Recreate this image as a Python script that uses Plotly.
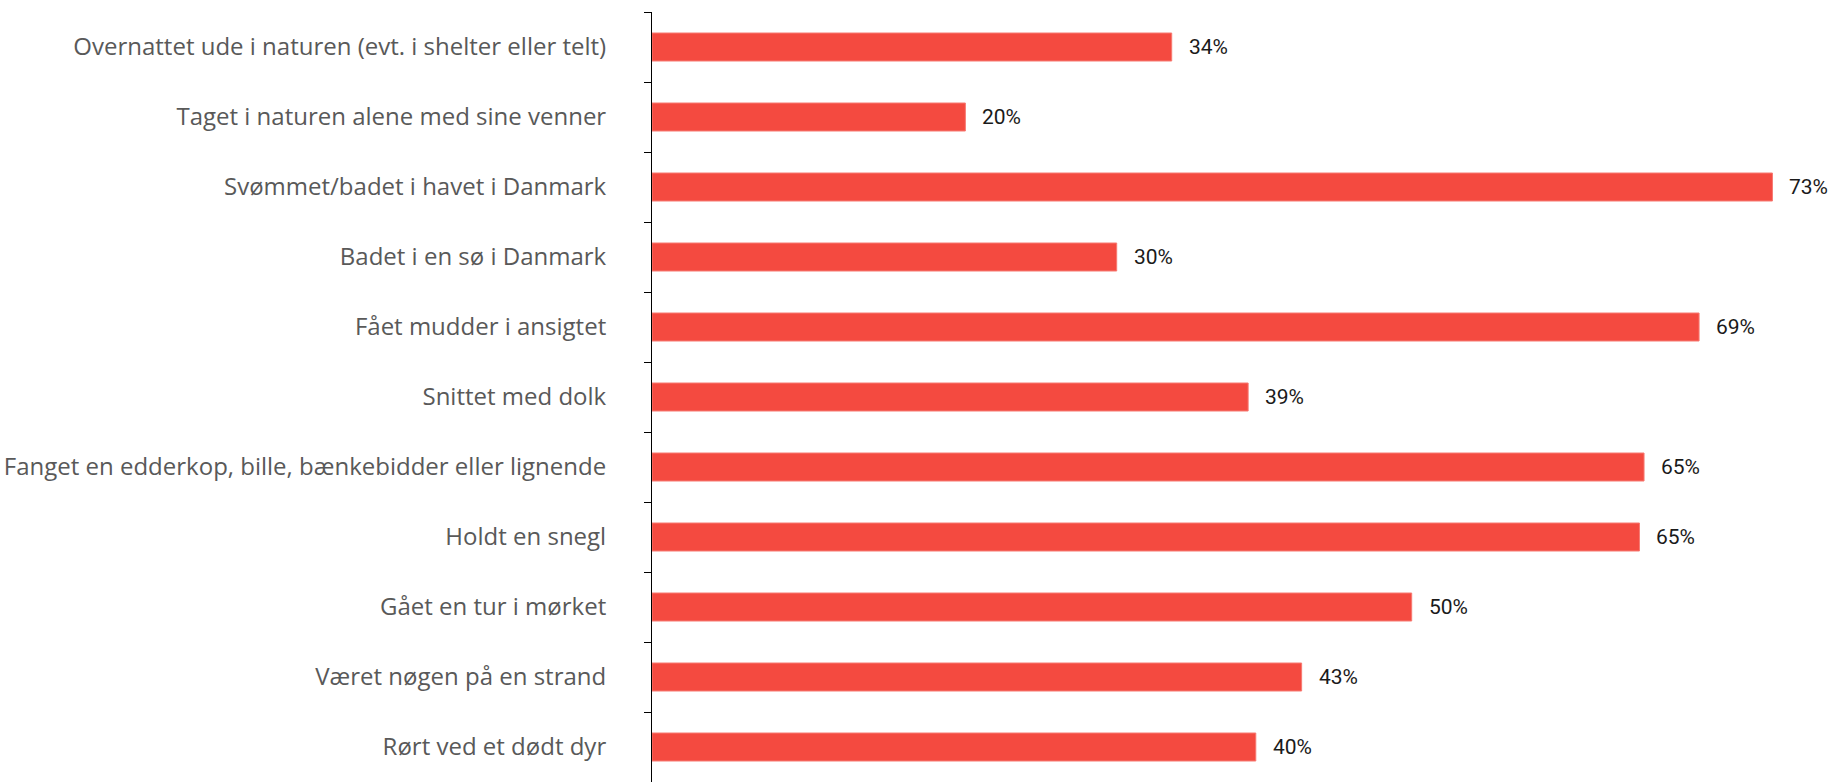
import plotly.graph_objects as go

categories = [
    "Overnattet ude i naturen (evt. i shelter eller telt)",
    "Taget i naturen alene med sine venner",
    "Svømmet/badet i havet i Danmark",
    "Badet i en sø i Danmark",
    "Fået mudder i ansigtet",
    "Snittet med dolk",
    "Fanget en edderkop, bille, bænkebidder eller lignende",
    "Holdt en snegl",
    "Gået en tur i mørket",
    "Været nøgen på en strand",
    "Rørt ved et dødt dyr",
]
# bar lengths (percent)
values = [34.0, 20.5, 73.3, 30.4, 68.5, 39.0, 64.9, 64.6, 49.7, 42.5, 39.5]
# value labels as printed in the picture
labels = ["34%", "20%", "73%", "30%", "69%", "39%", "65%", "65%", "50%", "43%", "40%"]

fig = go.Figure(go.Bar(
    y=categories, x=values, orientation="h",
    marker=dict(color="#F44A40", line=dict(color="#F77A72", width=1)),
    width=0.4, hoverinfo="x+y",
))

for cat, v, lab in zip(categories, values, labels):
    fig.add_annotation(
        x=v, y=cat, text=lab, showarrow=False, xanchor="left", yanchor="middle",
        xshift=15, font=dict(family="Roboto, sans-serif", size=21, color="#1a1a1a"),
    )

fig.update_layout(
    width=1829, height=782,
    margin=dict(l=652, r=0, t=12, b=0, autoexpand=False),
    plot_bgcolor="white", paper_bgcolor="white",
    showlegend=False,
)
fig.update_xaxes(range=[0, 77], visible=False, showgrid=False, zeroline=False)
fig.update_yaxes(
    autorange="reversed", showline=True, linecolor="black", linewidth=1,
    ticks="outside", ticklen=7, tickcolor="black", tickson="boundaries",
    ticklabelstandoff=40, showgrid=False, automargin=False,
    tickfont=dict(family="Open Sans, sans-serif", size=24, color="#595959"),
)
fig.write_html("out.html", config={"displayModeBar": False},
               post_script="document.body.style.margin='0';")
